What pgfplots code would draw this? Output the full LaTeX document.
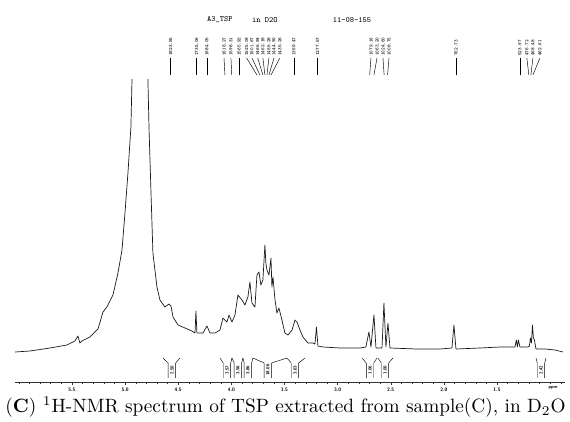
\documentclass[border=0pt]{standalone}
\usepackage{pgfplots}
\pgfplotsset{compat=1.18}
\usepackage{graphicx}
\pgfplotstableread{
ppm I
6.036 30
5.895 31
5.707 34
5.547 37
5.472 41
5.444 46
5.425 39
5.406 41
5.331 45
5.255 53
5.208 70
5.171 75
5.114 87
5.067 109
5.029 132
5.001 169
4.973 209
4.945 255
4.935 302
4.86 700
4.785 302
4.775 255
4.756 189
4.738 129
4.700 95
4.672 82
4.625 75
4.587 78
4.568 76
4.549 65
4.502 57
4.436 54
4.371 51
4.342 49
4.333 71
4.324 49
4.267 49
4.229 56
4.201 49
4.154 49
4.107 52
4.079 64
4.041 60
4.022 67
3.994 60
3.966 67
3.938 87
3.900 82
3.872 77
3.844 85
3.825 100
3.806 79
3.778 75
3.759 107
3.740 110
3.722 97
3.703 102
3.684 137
3.675 119
3.665 112
3.646 107
3.627 124
3.618 95
3.608 105
3.589 82
3.571 69
3.552 74
3.524 62
3.496 49
3.467 47
3.429 52
3.401 62
3.382 60
3.354 52
3.326 45
3.279 39
3.232 39
3.213 38
3.199 55
3.185 36
3.138 35
2.978 34
2.790 34
2.734 35
2.705 50
2.686 35
2.658 67
2.639 34
2.582 34
2.564 79
2.545 35
2.526 59
2.507 34
2.253 33
2.037 33
1.924 34
1.905 57
1.886 33
1.660 34
1.472 35
1.331 35
1.318 42
1.308 35
1.299 42
1.284 35
1.209 35
1.195 36
1.185 44
1.176 39
1.166 57
1.157 44
1.148 42
1.133 33
1.048 33
0.954 32
0.879 30
}\spectrum
\newcommand{\pk}[3]{%
  \draw[line width=0.45pt] (axis cs:#1,324) -- (axis cs:#2,307);
  \node[rotate=90,anchor=west,inner sep=0pt,font=\fontsize{5}{5}\selectfont\ttfamily\bfseries] at (axis cs:#1,326) {#3};}
\newcommand{\integ}[6]{% L R ca cb c text
  \draw[line width=0.45pt] (axis cs:#1,24) -- (axis cs:#3,19) -- (axis cs:#3,4);
  \draw[line width=0.45pt] (axis cs:#2,24) -- (axis cs:#4,19) -- (axis cs:#4,4);
  \node[rotate=90,inner sep=0pt,font=\fontsize{4.5}{4.5}\selectfont\sffamily\bfseries] at (axis cs:#5,12) {#6};}
\begin{document}
\begin{tikzpicture}
\path[use as bounding box] (-15pt,-39pt) rectangle (555pt,382pt);
\begin{axis}[
  at={(0pt,0pt)}, anchor=south west,
  scale only axis, width=550pt, height=302pt,
  xmin=0.860, xmax=6.036, ymin=0, ymax=302,
  x dir=reverse,
  axis x line*=bottom, axis y line=none,
  axis line style={line width=0.5pt, color=black!80},
  clip mode=individual,
  xtick={1.5,2.0,2.5,3.0,3.5,4.0,4.5,5.0,5.5},
  minor xtick={0.9,1.0,...,6.0},
  tick align=outside,
  major tick length=3pt, minor tick length=1.6pt,
  tick style={line width=0.4pt, color=black!80},
  ytick=\empty,
  /pgf/number format/fixed, /pgf/number format/fixed zerofill,
  /pgf/number format/precision=1,
  /pgf/number format/assume math mode=true,
  xticklabel style={font=\fontsize{5}{6}\selectfont\sffamily\bfseries, yshift=1pt},
]
\addplot[line width=0.7pt, color=black!90, line join=round] table[x=ppm,y=I] {\spectrum};
% title
\node[font=\fontsize{8}{9}\selectfont\ttfamily] at (axis cs:4.107,362) {A3\_TSP};
\node[font=\fontsize{8}{9}\selectfont\ttfamily] at (axis cs:3.684,362) {in D2O};
\node[font=\fontsize{8}{9}\selectfont\ttfamily] at (axis cs:2.865,362) {11-08-155};
% peak labels
\pk{4.571}{4.571}{1823.55}
\pk{4.327}{4.327}{1735.06}
\pk{4.230}{4.230}{1684.05}
\pk{4.069}{4.060}{1618.27}
\pk{4.004}{3.996}{1598.31}
\pk{3.928}{3.928}{1565.92}
\pk{3.856}{3.759}{1525.09}
\pk{3.806}{3.731}{1501.67}
\pk{3.752}{3.703}{1466.94}
\pk{3.703}{3.684}{1462.18}
\pk{3.646}{3.665}{1455.28}
\pk{3.599}{3.646}{1444.90}
\pk{3.543}{3.627}{1435.26}
\pk{3.411}{3.411}{1359.47}
\pk{3.188}{3.188}{1277.57}
\pk{2.686}{2.698}{1079.16}
\pk{2.629}{2.658}{1063.20}
\pk{2.573}{2.562}{1024.60}
\pk{2.516}{2.530}{1008.75}
\pk{1.886}{1.886}{762.73}
\pk{1.284}{1.284}{523.97}
\pk{1.219}{1.200}{476.72}
\pk{1.162}{1.181}{468.48}
\pk{1.096}{1.162}{462.61}
% integrals
\integ{4.644}{4.484}{4.594}{4.524}{4.559}{2.50}
\integ{4.107}{3.994}{4.076}{4.006}{4.041}{3.57}
\integ{3.994}{3.891}{3.973}{3.903}{3.938}{3.56}
\integ{3.891}{3.797}{3.879}{3.809}{3.844}{3.86}
\integ{3.797}{3.477}{3.691}{3.621}{3.656}{18.06}
\integ{3.477}{3.307}{3.436}{3.366}{3.401}{3.63}
\integ{2.771}{2.629}{2.730}{2.660}{2.695}{1.06}
\integ{2.620}{2.479}{2.589}{2.519}{2.554}{1.00}
\integ{1.133}{1.039}{1.121}{1.051}{1.086}{2.42}
\node[font=\fontsize{4.5}{5}\selectfont\sffamily\bfseries] at (axis cs:0.973,-6) {ppm};
\end{axis}
\node at (270.5pt,-25pt) {\resizebox{560pt}{!}{(\textbf{C}) \textsuperscript{1}H-NMR spectrum of TSP extracted from sample(C), in D\textsubscript{2}O}};
\end{tikzpicture}
\end{document}
